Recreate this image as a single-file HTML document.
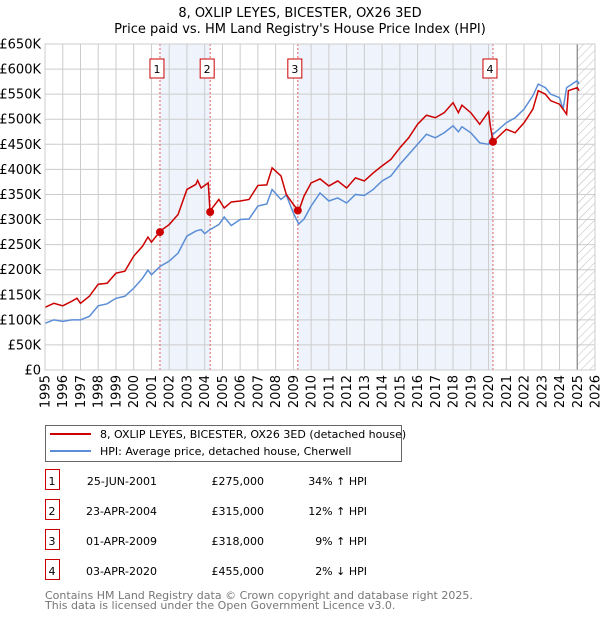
<!DOCTYPE html>
<html><head><meta charset="utf-8"><style>
body{margin:0;background:#fff;font-family:"Liberation Sans","DejaVu Sans",sans-serif;}
svg text{font-family:"DejaVu Sans","Liberation Sans",sans-serif;}
</style></head><body>
<svg id="c" width="600" height="620" viewBox="0 0 600 620" xmlns="http://www.w3.org/2000/svg">
<defs><pattern id="hatch" width="6" height="6" patternUnits="userSpaceOnUse" patternTransform="rotate(45)"><line x1="0" y1="0" x2="0" y2="6" stroke="#bbb" stroke-width="1"/></pattern></defs>
<text x="300" y="17" text-anchor="middle" font-size="13">8, OXLIP LEYES, BICESTER, OX26 3ED</text>
<text x="300" y="33" text-anchor="middle" font-size="13">Price paid vs. HM Land Registry's House Price Index (HPI)</text>
<g id="plot"></g>
<g>
<rect x="45.5" y="425.5" width="356" height="36" fill="#fff" stroke="#666"/>
<line x1="50" y1="434" x2="91" y2="434" stroke="#cc0000" stroke-width="2"/>
<text x="100" y="438" font-size="11">8, OXLIP LEYES, BICESTER, OX26 3ED (detached house)</text>
<line x1="50" y1="451" x2="91" y2="451" stroke="#5b8ed6" stroke-width="2"/>
<text x="100" y="455" font-size="11">HPI: Average price, detached house, Cherwell</text>
</g>
<g id="table"></g>
<text x="45" y="599" font-size="11" fill="#777">Contains HM Land Registry data © Crown copyright and database right 2025.</text>
<text x="45" y="609" font-size="11" fill="#777">This data is licensed under the Open Government Licence v3.0.</text>
</svg>
<script>
const hpiYears=[1995,1995.5,1996,1996.5,1997,1997.5,1998,1998.5,1999,1999.5,2000,2000.5,2000.8,2001,2001.5,2002,2002.5,2003,2003.5,2003.8,2004,2004.3,2004.8,2005.1,2005.5,2006,2006.5,2007,2007.5,2007.8,2008.3,2008.6,2009,2009.3,2009.6,2010,2010.5,2011,2011.5,2012,2012.5,2013,2013.5,2014,2014.5,2015,2015.5,2016,2016.5,2017,2017.5,2018,2018.3,2018.5,2019,2019.5,2020,2020.25,2021,2021.5,2022,2022.5,2022.8,2023.2,2023.5,2024,2024.2,2024.4,2025,2025.1];
const hpiValues=[93,100,97,100,100,107,128,132,143,147,163,183,199,190,207,217,233,267,277,280,272,280,290,305,288,300,301,327,331,360,340,349,313,291,301,327,353,337,343,333,350,348,360,377,387,410,430,450,470,463,473,487,475,485,473,453,450,470,493,503,520,547,570,563,550,543,520,563,577,570];
const priceYears=[1995,1995.5,1996,1996.5,1996.8,1997,1997.5,1998,1998.5,1999,1999.5,2000,2000.5,2000.8,2001,2001.5,2002,2002.5,2003,2003.5,2003.6,2003.8,2004.2,2004.3,2004.8,2005.1,2005.5,2006,2006.5,2007,2007.5,2007.8,2008.3,2008.6,2009,2009.3,2009.6,2010,2010.5,2011,2011.5,2012,2012.5,2013,2013.5,2014,2014.5,2015,2015.5,2016,2016.5,2017,2017.5,2018,2018.3,2018.5,2019,2019.5,2020,2020.1,2020.25,2021,2021.5,2022,2022.5,2022.8,2023.2,2023.5,2024,2024.4,2024.5,2025,2025.1];
const priceValues=[125,133,128,137,143,133,147,171,173,193,197,227,247,265,255,277,290,310,360,370,378,363,373,317,340,323,335,337,340,368,369,403,387,350,330,317,347,373,381,367,377,363,383,377,393,407,420,443,463,490,508,503,513,533,513,528,513,490,515,487,455,480,473,493,520,557,550,537,530,510,557,563,557];
const saleLabels=["1","2","3","4"];
const saleYears=[2001.48,2004.31,2009.25,2020.25];
const salePrices=[275,315,318,455];
const saleDates=["25-JUN-2001","23-APR-2004","01-APR-2009","03-APR-2020"];
const salePriceText=["£275,000","£315,000","£318,000","£455,000"];
const saleHpiText=["34% ↑ HPI","12% ↑ HPI","9% ↑ HPI","2% ↓ HPI"];
const yTicks=[0,50,100,150,200,250,300,350,400,450,500,550,600,650];
const yTickLabels=["£0","£50K","£100K","£150K","£200K","£250K","£300K","£350K","£400K","£450K","£500K","£550K","£600K","£650K"];
const xTicks=[1995,1996,1997,1998,1999,2000,2001,2002,2003,2004,2005,2006,2007,2008,2009,2010,2011,2012,2013,2014,2015,2016,2017,2018,2019,2020,2021,2022,2023,2024,2025,2026];

const NS="http://www.w3.org/2000/svg";
const L=45,R=595,T=44,B=370;
const x=v=>L+(v-1995)/(2026-1995)*(R-L);
const y=v=>B-v/650*(B-T);
const plot=document.getElementById('plot');
function mk(tag,attrs,parent){const e=document.createElementNS(NS,tag);for(const k in attrs)e.setAttribute(k,attrs[k]);(parent||plot).appendChild(e);return e;}

// shading
for(let i=0;i<saleYears.length;i+=2){
  const r=mk('rect',{x:x(saleYears[i]),y:T,width:x(saleYears[i+1])-x(saleYears[i]),height:B-T,fill:'#eef3fc'});
  
  
}
// hatch
const h=mk('rect',{x:x(2025),y:T,width:R-x(2025),height:B-T,fill:'url(#hatch)'});


// grid
yTicks.forEach((v,i)=>{
  const g=mk('line',{x1:L,x2:R,y1:y(v),y2:y(v),stroke:'#cccccc','stroke-width':1});
  
  
  const t=mk('text',{x:L-4,y:y(v)+4.5,'text-anchor':'end','font-size':13});
  t.textContent=yTickLabels[i];
  
  
});
xTicks.forEach(v=>{
  const g=mk('line',{x1:x(v),x2:x(v),y1:T,y2:B,stroke:'#cccccc','stroke-width':1});
  
  
  const t=mk('text',{x:0,y:0,'text-anchor':'end','font-size':13,transform:`translate(${x(v)+4.5},${B+5}) rotate(-90)`});
  t.textContent=v;
  
  
});
const vl=mk('line',{x1:x(2025),x2:x(2025),y1:T,y2:B,stroke:'#888','stroke-width':1.2});


// sale lines
saleYears.forEach((v,i)=>{
  const l=mk('line',{x1:x(v),x2:x(v),y1:T,y2:B,stroke:'#e06060','stroke-width':1,'stroke-dasharray':'2,2'});
  
  
  const b=mk('rect',{x:x(v)-10,y:59,width:14,height:19,fill:'#fff',stroke:'#cc0000'});
  
  
  const t=mk('text',{x:x(v)-3,y:73,'text-anchor':'middle','font-size':11});
  t.textContent=saleLabels[i];
  
  
});
// lines
const hp=mk('polyline',{points:hpiYears.map((v,i)=>x(v)+','+y(hpiValues[i])).join(' '),fill:'none',stroke:'#5b8ed6','stroke-width':1.5});


const pp=mk('polyline',{points:priceYears.map((v,i)=>x(v)+','+y(priceValues[i])).join(' '),fill:'none',stroke:'#cc0000','stroke-width':1.5});


saleYears.forEach((v,i)=>{
  const c=mk('circle',{cx:x(v),cy:y(salePrices[i]),r:4,fill:'#cc0000'});
  
  
});
const fr=mk('rect',{x:L,y:T,width:R-L,height:B-T,fill:'none',stroke:'#cccccc'});


// table
const tb=document.getElementById('table');
saleLabels.forEach((s,i)=>{
  const ry=483+i*30;
  const b=mk('rect',{x:45.5,y:ry-13.5,width:14,height:20,fill:'#fff',stroke:'#cc0000'},tb);
  
  
  const cols=[[52,s,'middle'],[157,saleDates[i],'end'],[264,salePriceText[i],'end'],[367,saleHpiText[i],'end']];
  cols.forEach(([cx,txt,a],j)=>{
    const t=mk('text',{x:cx,y:ry+2,'text-anchor':a,'font-size':11},tb);
    t.textContent=txt;
    
    
  });
});
</script>
</body></html>
